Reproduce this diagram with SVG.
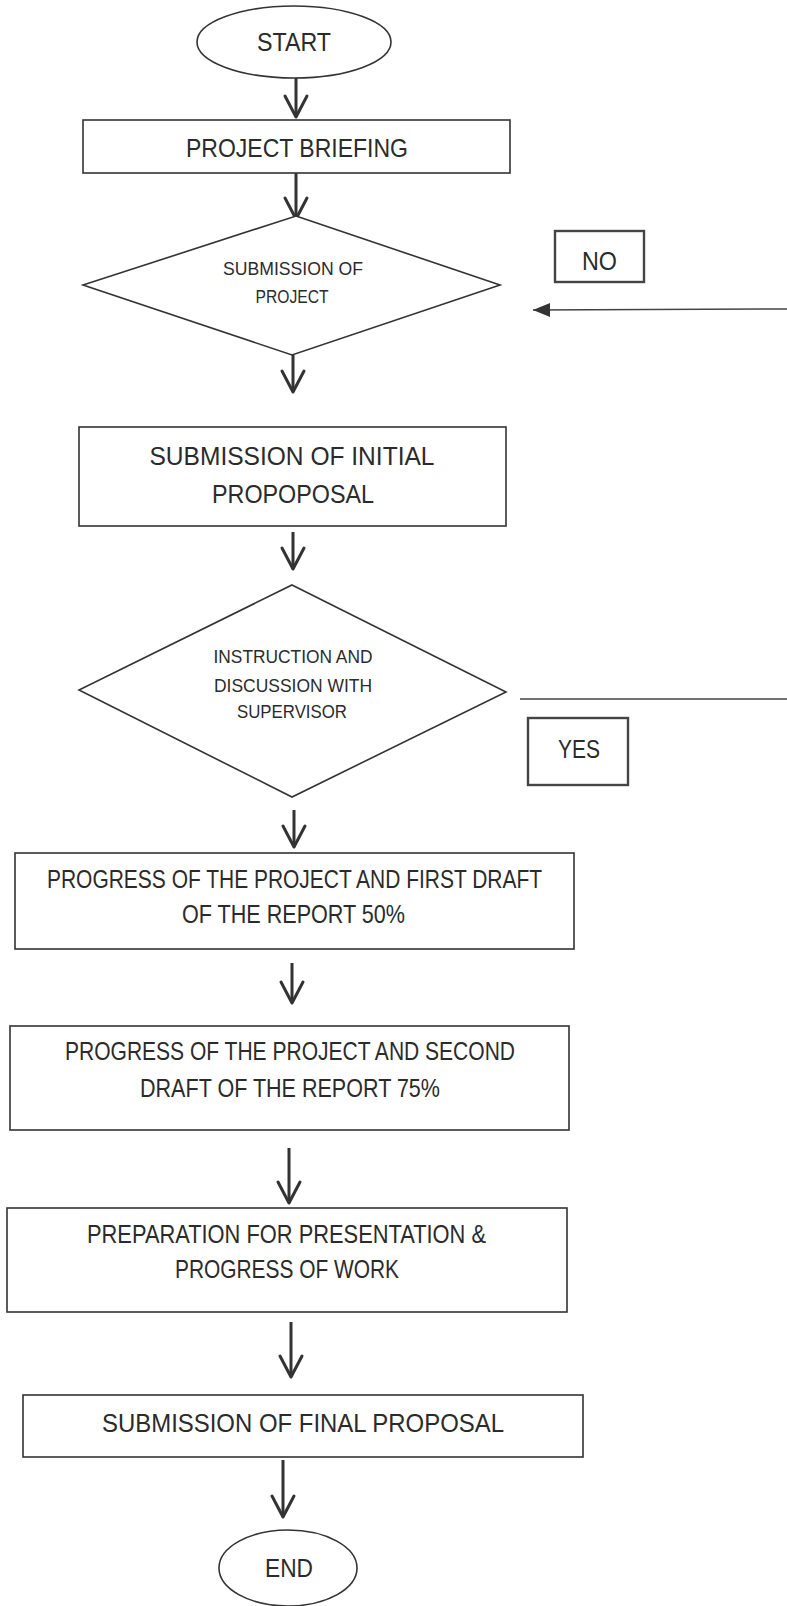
<svg xmlns="http://www.w3.org/2000/svg" width="787" height="1606" viewBox="0 0 787 1606">
<style>
.shape{fill:#fff;stroke:#333;stroke-width:1.6}
.box{fill:#fff;stroke:#444;stroke-width:2.4}
.t{font-family:"Liberation Sans",Arial,sans-serif;font-size:25px;fill:#2b2b2b;text-anchor:middle}
.s{font-size:18px}
.arr{fill:none;stroke:#333;stroke-width:3;marker-end:url(#chev)}
.ln{fill:none;stroke:#444;stroke-width:1.5}
</style>
<defs>
<marker id="chev" markerUnits="userSpaceOnUse" viewBox="-24 -14 26 28" refX="0" refY="0" markerWidth="26" markerHeight="28" orient="auto" overflow="visible">
<path d="M-21,-11 L0,0 L-21,11" fill="none" stroke="#333" stroke-width="3" stroke-linejoin="round" stroke-linecap="round"/>
</marker>
<marker id="tri" markerUnits="userSpaceOnUse" viewBox="-18 -8 19 16" refX="0" refY="0" markerWidth="19" markerHeight="16" orient="auto" overflow="visible">
<path d="M-17,-7 L0,0 L-17,7 Z" fill="#333"/>
</marker>
</defs>
<rect width="787" height="1606" fill="#fff"/>
<g id="connectors">
<path class="arr" d="M296,77 L296,117"/>
<path class="arr" d="M296,173 L296,219"/>
<path class="arr" d="M293,355 L293,392"/>
<path class="arr" d="M293,532 L293,569"/>
<path class="arr" d="M294,810 L294,847"/>
<path class="arr" d="M292,963 L292,1003"/>
<path class="arr" d="M289,1148 L289,1203"/>
<path class="arr" d="M291,1322 L291,1377"/>
<path class="arr" d="M283,1460 L283,1517"/>
<path class="ln" d="M787,309 L533,310" marker-end="url(#tri)"/>
<path class="ln" d="M520,699 L787,699"/>
</g>
<g id="start">
<ellipse class="shape" cx="294" cy="42" rx="97" ry="36"/>
<text class="t" x="294" y="51" textLength="74" lengthAdjust="spacingAndGlyphs">START</text>
</g>
<g id="briefing">
<rect class="shape" x="83" y="120" width="427" height="53"/>
<text class="t" x="297" y="157" textLength="222" lengthAdjust="spacingAndGlyphs">PROJECT BRIEFING</text>
</g>
<g id="decision1">
<polygon class="shape" points="296,216 500,285 292,355 83,285"/>
<text class="t s" x="293" y="275" textLength="140" lengthAdjust="spacingAndGlyphs">SUBMISSION OF</text>
<text class="t s" x="292" y="303" textLength="73" lengthAdjust="spacingAndGlyphs">PROJECT</text>
</g>
<g id="no-label">
<rect class="box" x="555" y="231" width="89" height="51"/>
<text class="t" x="599.5" y="270" textLength="35" lengthAdjust="spacingAndGlyphs">NO</text>
</g>
<g id="initial">
<rect class="shape" x="79" y="427" width="427" height="99"/>
<text class="t" x="292" y="465" textLength="285" lengthAdjust="spacingAndGlyphs">SUBMISSION OF INITIAL</text>
<text class="t" x="293" y="503" textLength="162" lengthAdjust="spacingAndGlyphs">PROPOPOSAL</text>
</g>
<g id="decision2">
<polygon class="shape" points="292,585 506,692 292,797 79,690"/>
<text class="t s" x="293" y="663" textLength="159" lengthAdjust="spacingAndGlyphs">INSTRUCTION AND</text>
<text class="t s" x="293" y="692" textLength="158" lengthAdjust="spacingAndGlyphs">DISCUSSION WITH</text>
<text class="t s" x="292" y="718" textLength="110" lengthAdjust="spacingAndGlyphs">SUPERVISOR</text>
</g>
<g id="yes-label">
<rect class="box" x="528" y="718" width="100" height="67"/>
<text class="t" x="579" y="758" textLength="42" lengthAdjust="spacingAndGlyphs">YES</text>
</g>
<g id="draft1">
<rect class="shape" x="15" y="853" width="559" height="96"/>
<text class="t" x="294.5" y="888" textLength="495" lengthAdjust="spacingAndGlyphs">PROGRESS OF THE PROJECT AND FIRST DRAFT</text>
<text class="t" x="293.5" y="923" textLength="223" lengthAdjust="spacingAndGlyphs">OF THE REPORT 50%</text>
</g>
<g id="draft2">
<rect class="shape" x="10" y="1026" width="559" height="104"/>
<text class="t" x="290" y="1060" textLength="450" lengthAdjust="spacingAndGlyphs">PROGRESS OF THE PROJECT AND SECOND</text>
<text class="t" x="290" y="1097" textLength="300" lengthAdjust="spacingAndGlyphs">DRAFT OF THE REPORT 75%</text>
</g>
<g id="presentation">
<rect class="shape" x="7" y="1208" width="560" height="104"/>
<text class="t" x="286.5" y="1243" textLength="399" lengthAdjust="spacingAndGlyphs">PREPARATION FOR PRESENTATION &amp;</text>
<text class="t" x="287" y="1278" textLength="224" lengthAdjust="spacingAndGlyphs">PROGRESS OF WORK</text>
</g>
<g id="final">
<rect class="shape" x="23" y="1395" width="560" height="62"/>
<text class="t" x="303" y="1432" textLength="402" lengthAdjust="spacingAndGlyphs">SUBMISSION OF FINAL PROPOSAL</text>
</g>
<g id="end">
<ellipse class="shape" cx="288" cy="1568" rx="69" ry="38"/>
<text class="t" x="289" y="1577" textLength="48" lengthAdjust="spacingAndGlyphs">END</text>
</g>
</svg>
